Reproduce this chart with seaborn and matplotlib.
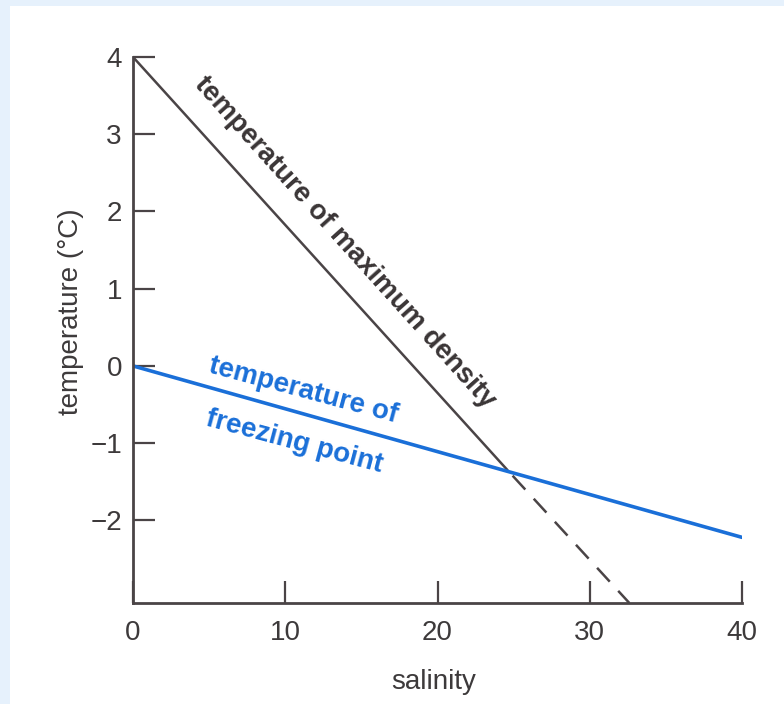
import matplotlib
matplotlib.use('Agg')
import matplotlib.pyplot as plt
import pandas as pd
import seaborn as sns
from matplotlib.patches import Rectangle


# values
max_density_salinity = [0, 24.6]
max_density_temp = [4.0, -1.35]
max_density_ext_salinity = [24.6, 32.6]
max_density_ext_temp = [-1.35, -3.07]
freezing_salinity = [0, 40]
freezing_temp = [0.0, -2.22]

x_ticks = [0, 10, 20, 30, 40]
y_ticks = [-2, -1, 0, 1, 2, 3, 4]
y_tick_labels = ['\u22122', '\u22121', '0', '1', '2', '3', '4']

GRAY = '#4a4446'
BLUE = '#1a6fd8'
TEXT = '#3d3a3b'
FONT = ['Liberation Sans Narrow', 'Liberation Sans', 'DejaVu Sans']


def main() -> None:
  sns.set_style('white')
  plt.rcParams['font.family'] = FONT

  fig = plt.figure(figsize=(7.84, 7.04), dpi=100)
  fig.patch.set_facecolor('#e6f1fc')
  fig.patches.append(Rectangle((10 / 784, 0), 1, 1 - 6 / 704, transform=fig.transFigure,
                               facecolor='white', edgecolor='none', zorder=-10))

  ax = fig.add_axes([133 / 784, 1 - 603 / 704, (742 - 133) / 784, (603 - 57) / 704])
  ax.set_facecolor('none')

  dens = pd.DataFrame({'salinity': max_density_salinity, 'temp': max_density_temp})
  dens_ext = pd.DataFrame({'salinity': max_density_ext_salinity, 'temp': max_density_ext_temp})
  frz = pd.DataFrame({'salinity': freezing_salinity, 'temp': freezing_temp})

  sns.lineplot(data=dens, x='salinity', y='temp', color=GRAY, linewidth=1.8, ax=ax)
  # offset so the last dash runs into the x axis
  sns.lineplot(data=dens_ext, x='salinity', y='temp', color=GRAY, linewidth=1.8,
               dashes=False, ax=ax, linestyle=(9.5, (7.5, 5)))
  sns.lineplot(data=frz, x='salinity', y='temp', color=BLUE, linewidth=2.6, ax=ax)

  ax.set_xlim(0, 40)
  ax.set_ylim(-3.07, 4)
  ax.set_xticks(x_ticks)
  ax.set_yticks(y_ticks)
  ax.set_yticklabels(y_tick_labels)

  for side in ['top', 'right']:
    ax.spines[side].set_visible(False)
  for side in ['left', 'bottom']:
    ax.spines[side].set_color(GRAY)
    ax.spines[side].set_linewidth(2)

  ax.tick_params(axis='both', direction='in', length=16, width=1.6, color=GRAY,
                 labelsize=20, labelcolor=TEXT, bottom=True, left=True)
  ax.tick_params(axis='x', pad=12)
  ax.tick_params(axis='y', pad=8)

  ax.set_xlabel('salinity', fontsize=20, color=TEXT)
  ax.set_ylabel('temperature (\u00b0C)', fontsize=20, color=TEXT)
  ax.xaxis.set_label_coords(0.494, -0.12)
  ax.yaxis.set_label_coords(-0.08, 0.533)

  ax.text(13.9, 1.6, 'temperature of maximum density', rotation=-48,
          rotation_mode='anchor', ha='center', va='center', fontsize=20,
          fontweight='bold', color='#3a3536')
  ax.text(11.2, -0.32, 'temperature of', rotation=-15, rotation_mode='anchor',
          ha='center', va='center', fontsize=20, fontweight='bold', color=BLUE)
  ax.text(10.6, -0.98, 'freezing point', rotation=-15, rotation_mode='anchor',
          ha='center', va='center', fontsize=20, fontweight='bold', color=BLUE)

  fig.savefig('out.png', dpi=100, facecolor=fig.get_facecolor())


if __name__ == '__main__':
  main()
